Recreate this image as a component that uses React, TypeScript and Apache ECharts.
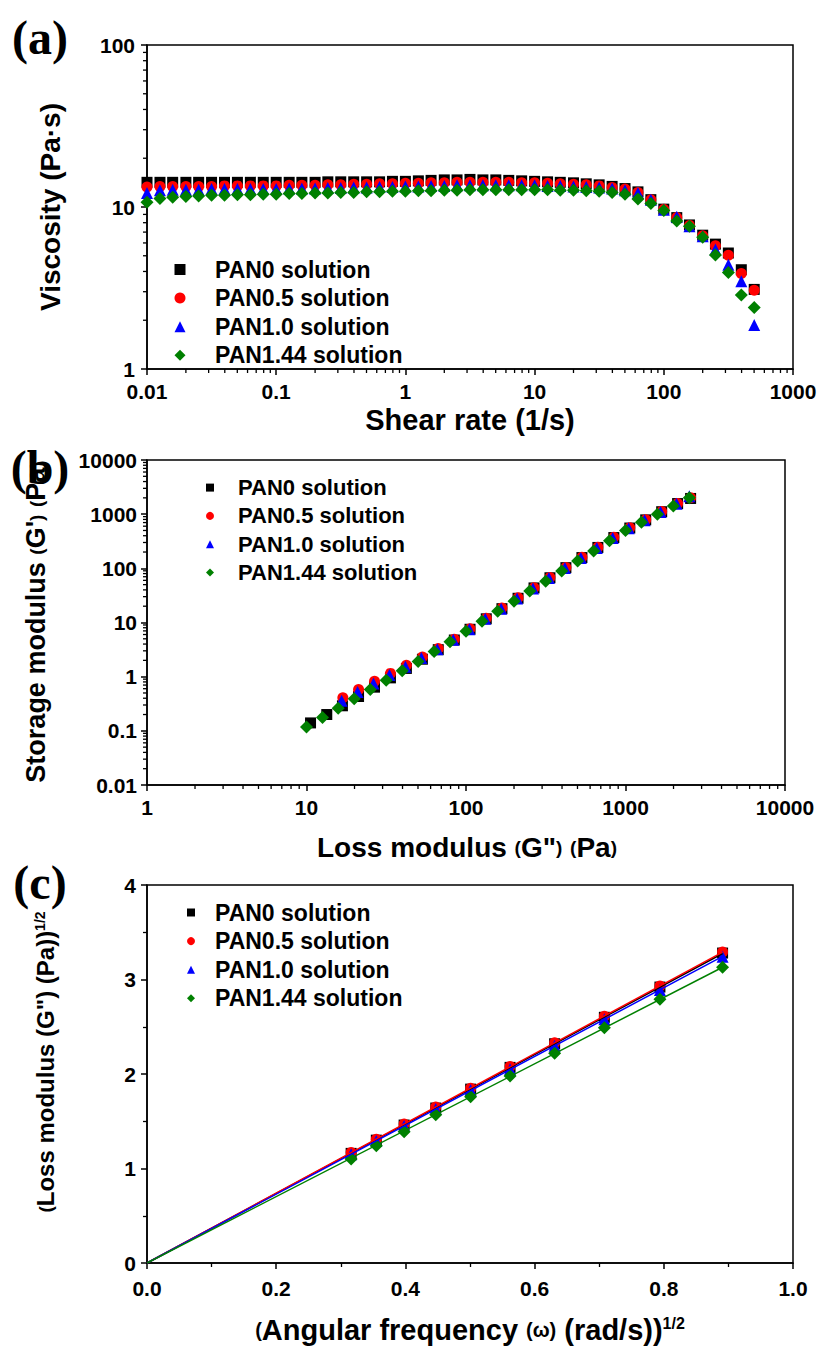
import React, { useEffect, useRef } from "react";
import * as echarts from "echarts";

const FONT = '"Liberation Sans", Arial, Helvetica, sans-serif';
const SERIF = '"Liberation Serif", "Times New Roman", serif';

const seriesNames = ["PAN0 solution", "PAN0.5 solution", "PAN1.0 solution", "PAN1.44 solution"];
const seriesColors = ["#000000", "#ff0000", "#0000ff", "#008000"];
const seriesSymbols = ["rect", "circle", "triangle", "diamond"];
const symbolSizes = [11, 11, 12, 13];

// ---------- Panel (a): viscosity vs shear rate ----------
const shearRate = [
  0.01, 0.0126, 0.0158, 0.02, 0.0251, 0.0316, 0.0398, 0.0501, 0.0631, 0.0794,
  0.1, 0.126, 0.158, 0.2, 0.251, 0.316, 0.398, 0.501, 0.631, 0.794,
  1, 1.26, 1.58, 2, 2.51, 3.16, 3.98, 5.01, 6.31, 7.94,
  10, 12.6, 15.8, 20, 25.1, 31.6, 39.8, 50.1, 63.1, 79.4,
  100, 126, 158, 200, 251, 316, 398, 501,
];
const viscPAN0 = [
  14.2, 14.2, 14.2, 14.2, 14.2, 14.2, 14.2, 14.2, 14.2, 14.2,
  14.2, 14.2, 14.2, 14.2, 14.3, 14.3, 14.3, 14.3, 14.3, 14.4,
  14.4, 14.5, 14.6, 14.7, 14.7, 14.8, 14.7, 14.7, 14.6, 14.5,
  14.4, 14.3, 14.2, 14.1, 13.9, 13.7, 13.4, 13.0, 12.4, 11.1,
  9.7, 8.6, 7.75, 6.7, 5.9, 5.2, 4.1, 3.1,
];
const viscPAN05 = [
  13.3, 13.4, 13.4, 13.4, 13.4, 13.4, 13.5, 13.5, 13.5, 13.5,
  13.5, 13.6, 13.6, 13.6, 13.7, 13.7, 13.8, 13.8, 13.9, 13.9,
  14.0, 14.0, 14.1, 14.1, 14.2, 14.2, 14.2, 14.2, 14.2, 14.1,
  14.1, 14.0, 13.9, 13.8, 13.7, 13.5, 13.2, 12.9, 12.3, 11.1,
  9.7, 8.6, 7.7, 6.65, 5.76, 5.04, 3.89, 3.06,
];
const viscPAN10 = [
  12.2, 12.7, 12.8, 12.8, 12.8, 12.9, 12.9, 12.9, 12.9, 12.9,
  12.9, 13.0, 13.0, 13.0, 13.1, 13.1, 13.2, 13.2, 13.3, 13.3,
  13.4, 13.4, 13.5, 13.5, 13.6, 13.6, 13.6, 13.6, 13.6, 13.6,
  13.6, 13.5, 13.5, 13.4, 13.3, 13.2, 13.0, 12.7, 12.2, 11.1,
  9.6, 8.7, 7.6, 6.6, 5.46, 4.4, 3.48, 1.87,
];
const viscPAN144 = [
  10.7, 11.3, 11.5, 11.6, 11.7, 11.8, 11.8, 11.9, 11.9, 12.0,
  12.0, 12.1, 12.1, 12.2, 12.2, 12.3, 12.3, 12.4, 12.4, 12.5,
  12.5, 12.6, 12.6, 12.7, 12.7, 12.8, 12.8, 12.8, 12.8, 12.8,
  12.8, 12.8, 12.7, 12.7, 12.6, 12.5, 12.3, 12.0, 11.2, 10.5,
  9.5, 8.2, 7.6, 6.5, 5.06, 3.94, 2.86, 2.4,
];
const viscosity = [viscPAN0, viscPAN05, viscPAN10, viscPAN144];

// ---------- Panel (b): storage modulus vs loss modulus ----------
const lossPAN0 = [10.6, 13.4, 16.8, 21.2, 26.7, 33.6, 42.3, 53.3, 67.0, 84.5, 106, 134, 168, 212, 267, 336, 423, 533, 671, 845, 1064, 1339, 1686, 2122, 2560];
const storPAN0 = [0.14, 0.2, 0.29, 0.43, 0.64, 0.95, 1.42, 2.1, 3.15, 4.75, 7.5, 11.7, 18, 28, 43.5, 67, 103, 158, 243, 370, 555, 785, 1110, 1570, 1950];
const lossPAN05 = [16.9, 21.2, 26.7, 33.6, 42.3, 53.3, 67.0, 84.5, 106, 134, 168, 212, 267, 336, 423, 533, 671, 845, 1064, 1339, 1686, 2122, 2560];
const storPAN05 = [0.41, 0.58, 0.82, 1.15, 1.62, 2.3, 3.3, 4.9, 7.7, 12.0, 18.5, 28.5, 44, 68, 104, 160, 245, 375, 560, 790, 1120, 1580, 2000];
const lossPAN10 = [16.6, 20.9, 26.3, 33.1, 41.7, 52.5, 66.1, 83.2, 105, 132, 166, 209, 263, 331, 417, 525, 661, 832, 1047, 1318, 1660, 2089, 2512];
const storPAN10 = [0.36, 0.52, 0.75, 1.07, 1.52, 2.2, 3.2, 4.8, 7.5, 11.7, 18, 27.8, 42.5, 66, 101, 155, 238, 365, 548, 775, 1100, 1560, 2150];
const lossPAN144 = [10.0, 12.6, 15.8, 19.9, 25.1, 31.6, 39.8, 50.1, 63.1, 79.4, 100, 126, 158, 200, 251, 316, 398, 501, 631, 794, 1000, 1259, 1585, 1995, 2512];
const storPAN144 = [0.118, 0.177, 0.26, 0.39, 0.58, 0.86, 1.29, 1.9, 2.9, 4.4, 6.9, 10.6, 16.2, 24.8, 38, 58, 89, 137, 210, 322, 500, 710, 1000, 1420, 2000];
const lossModulus = [lossPAN0, lossPAN05, lossPAN10, lossPAN144];
const storageModulus = [storPAN0, storPAN05, storPAN10, storPAN144];

// ---------- Panel (c): sqrt(G'') vs sqrt(omega) ----------
const sqrtFreq = [0.316, 0.355, 0.398, 0.447, 0.501, 0.562, 0.631, 0.708, 0.794, 0.891];
const sqrtLossPAN0 = [1.16, 1.30, 1.46, 1.64, 1.84, 2.07, 2.32, 2.60, 2.92, 3.28];
const sqrtLossPAN05 = [1.17, 1.31, 1.47, 1.65, 1.85, 2.08, 2.33, 2.61, 2.93, 3.29];
const sqrtLossPAN10 = [1.15, 1.29, 1.45, 1.63, 1.83, 2.05, 2.30, 2.58, 2.89, 3.24];
const sqrtLossPAN144 = [1.10, 1.24, 1.39, 1.57, 1.76, 1.98, 2.22, 2.49, 2.79, 3.13];
const sqrtLoss = [sqrtLossPAN0, sqrtLossPAN05, sqrtLossPAN10, sqrtLossPAN144];

// tick labels
const ticksA_x = ["0.01", "0.1", "1", "10", "100", "1000"];
const ticksA_y = ["1", "10", "100"];
const ticksB_x = ["1", "10", "100", "1000", "10000"];
const ticksB_y = ["0.01", "0.1", "1", "10", "100", "1000", "10000"];

function logMinorTicks(minExp: number, maxExp: number): number[] {
  const out: number[] = [];
  for (let e = minExp; e < maxExp; e++) {
    for (let m = 2; m <= 9; m++) out.push(+(m * Math.pow(10, e)).toPrecision(4));
  }
  return out;
}

function minorTickSeries(gridIdx: number, dir: "x" | "y", ticks: number[], other: number, len: number) {
  return {
    type: "custom",
    xAxisIndex: gridIdx,
    yAxisIndex: gridIdx,
    clip: false,
    silent: true,
    z: 6,
    data: ticks.map((t) => (dir === "x" ? [t, other] : [other, t])),
    renderItem: (_params: any, api: any) => {
      const p = api.coord([api.value(0), api.value(1)]);
      const shape =
        dir === "x"
          ? { x1: p[0], y1: p[1], x2: p[0], y2: p[1] + len }
          : { x1: p[0], y1: p[1], x2: p[0] - len, y2: p[1] };
      return { type: "line", shape, style: { stroke: "#000", lineWidth: 1.3 } };
    },
  };
}

const fmtLog = (v: number) => String(+Number(v).toPrecision(6));

function buildOption(): any {
  const grids = [
    { left: 147, top: 45, width: 646, height: 324 },
    { left: 147, top: 460, width: 638, height: 325 },
    { left: 147, top: 885, width: 646, height: 378 },
  ].map((g) => ({
    ...g,
    show: true,
    borderColor: "#000",
    borderWidth: 1.5,
    backgroundColor: "transparent",
    containLabel: false,
    outerBoundsMode: "none",
  }));

  const axisBase = (margin: number) => ({
    axisLine: { show: true, onZero: false, lineStyle: { color: "#000", width: 1.5 } },
    axisTick: { show: true, inside: false, length: 6, lineStyle: { color: "#000", width: 1.5 } },
    axisLabel: {
      color: "#000",
      fontSize: 21,
      fontWeight: "bold",
      fontFamily: FONT,
      margin,
      hideOverlap: false,
    },
    splitLine: { show: false },
  });

  const logLabel = (labels: string[], margin: number) => {
    const b = axisBase(margin);
    return {
      ...b,
      axisLabel: {
        ...b.axisLabel,
        formatter: (v: number) => {
          const s = fmtLog(v);
          return labels.indexOf(s) >= 0 ? s : "";
        },
      },
    };
  };

  const xAxis = [
    { type: "log", logBase: 10, min: 0.01, max: 1000, gridIndex: 0, ...logLabel(ticksA_x, 12) },
    { type: "log", logBase: 10, min: 1, max: 10000, gridIndex: 1, ...logLabel(ticksB_x, 12) },
    {
      type: "value",
      min: 0,
      max: 1,
      interval: 0.2,
      gridIndex: 2,
      ...axisBase(15),
      minorTick: { show: true, splitNumber: 2, length: 4, lineStyle: { color: "#000", width: 1.3 } },
      axisLabel: { ...axisBase(15).axisLabel, formatter: (v: number) => Number(v).toFixed(1) },
    },
  ];
  const yAxis = [
    { type: "log", logBase: 10, min: 1, max: 100, gridIndex: 0, ...logLabel(ticksA_y, 12) },
    { type: "log", logBase: 10, min: 0.01, max: 10000, gridIndex: 1, ...logLabel(ticksB_y, 10) },
    {
      type: "value",
      min: 0,
      max: 4,
      interval: 1,
      gridIndex: 2,
      ...axisBase(11),
      minorTick: { show: true, splitNumber: 2, length: 4, lineStyle: { color: "#000", width: 1.3 } },
      axisLabel: { ...axisBase(11).axisLabel, formatter: (v: number) => String(Math.round(v)) },
    },
  ];

  const series: any[] = [];
  // panel (a)
  seriesNames.forEach((name, i) => {
    series.push({
      type: "scatter",
      name,
      xAxisIndex: 0,
      yAxisIndex: 0,
      symbol: seriesSymbols[i],
      symbolSize: symbolSizes[i],
      itemStyle: { color: seriesColors[i], opacity: 1 },
      data: shearRate.map((x, k) => [x, viscosity[i][k]]),
    });
  });
  // panel (b)
  seriesNames.forEach((name, i) => {
    series.push({
      type: "scatter",
      name,
      xAxisIndex: 1,
      yAxisIndex: 1,
      symbol: seriesSymbols[i],
      symbolSize: symbolSizes[i],
      itemStyle: { color: seriesColors[i], opacity: 1 },
      data: lossModulus[i].map((x, k) => [x, storageModulus[i][k]]),
    });
  });
  // panel (c): linear fits through the origin
  const xMax = Math.max(...sqrtFreq);
  seriesNames.forEach((name, i) => {
    const ys = sqrtLoss[i];
    let sxy = 0;
    let sxx = 0;
    sqrtFreq.forEach((x, k) => {
      sxy += x * ys[k];
      sxx += x * x;
    });
    const slope = sxy / sxx;
    series.push({
      type: "line",
      name: name + " fit",
      xAxisIndex: 2,
      yAxisIndex: 2,
      showSymbol: false,
      symbol: "none",
      silent: true,
      color: seriesColors[i],
      lineStyle: { color: seriesColors[i], width: 1.5 },
      data: [
        [0, 0],
        [xMax, slope * xMax],
      ],
    });
  });
  seriesNames.forEach((name, i) => {
    series.push({
      type: "scatter",
      name,
      xAxisIndex: 2,
      yAxisIndex: 2,
      symbol: seriesSymbols[i],
      symbolSize: symbolSizes[i],
      itemStyle: { color: seriesColors[i], opacity: 1 },
      data: sqrtFreq.map((x, k) => [x, sqrtLoss[i][k]]),
    });
  });
  // log-axis minor ticks
  series.push(minorTickSeries(0, "x", logMinorTicks(-2, 3), 1, 4));
  series.push(minorTickSeries(0, "y", logMinorTicks(0, 2), 0.01, 4));
  series.push(minorTickSeries(1, "x", logMinorTicks(0, 4), 0.01, 4));
  series.push(minorTickSeries(1, "y", logMinorTicks(-2, 4), 1, 4));

  const legendData = seriesNames.map((n, i) => ({ name: n, icon: seriesSymbols[i] }));
  const mkLegend = (left: number, top: number, size: number, gap: number, fontSize: number, pad: number) => ({
    left,
    top,
    orient: "vertical",
    itemWidth: size,
    itemHeight: size,
    itemGap: gap,
    padding: 0,
    selectedMode: false,
    data: legendData,
    textStyle: {
      color: "#000",
      fontSize,
      fontWeight: "bold",
      fontFamily: FONT,
      lineHeight: size,
      padding: [0, 0, 0, pad],
    },
  });
  const legend = [
    mkLegend(174.5, 258, 11, 5.6, 23, 24.5),
    mkLegend(206, 476.6, 8, 6.3, 22, 19),
    mkLegend(187, 901, 8, 5.6, 23, 15),
  ];

  const bold = (size: number) => ({ fontSize: size, fontWeight: "bold", fontFamily: FONT, fill: "#000" });
  const txt = (x: number, y: number, text: string, size: number, rot = 0, rich?: any) => ({
    type: "text",
    x,
    y,
    rotation: rot,
    silent: true,
    style: { text, ...bold(size), align: "center", verticalAlign: "middle", rich },
  });
  const richMain = (n: number, s: number, p: number) => ({
    n: { fontSize: n, fontWeight: "bold", fontFamily: FONT, color: "#000" },
    s: { fontSize: s, fontWeight: "bold", fontFamily: FONT, color: "#000" },
    p: { fontSize: p, fontWeight: "bold", fontFamily: FONT, color: "#000", verticalAlign: "top" },
  });
  const panelLabel = (x: number, y: number, text: string) => ({
    type: "text",
    x,
    y,
    silent: true,
    style: { text, fontSize: 48, fontWeight: "bold", fontFamily: SERIF, fill: "#000", align: "center", verticalAlign: "middle" },
  });

  const graphic = [
    panelLabel(40, 37, "(a)"),
    panelLabel(40, 467, "(b)"),
    panelLabel(40, 882, "(c)"),
    txt(470, 420, "Shear rate (1/s)", 29),
    txt(50, 207, "Viscosity (Pa·s)", 28, Math.PI / 2),
    txt(467, 847, '{n|Loss modulus }{s|(}{n|G"}{s|)}{n| }{s|(}{n|Pa}{s|)}', 28, 0, richMain(28, 19, 16)),
    txt(36, 622, "{n|Storage modulus }{s|(}{n|G'}{s|)}{n| }{s|(}{n|Pa}{s|)}", 27, Math.PI / 2, richMain(27, 19, 15)),
    txt(470, 1330, "{s|(}{n|Angular frequency }{s|(ω)}{n| (rad/s))}{p|1/2}", 29, 0, richMain(29, 20, 16)),
    txt(45, 1062, '{s|(}{n|Loss modulus (G") (Pa))}{p|1/2}', 24, Math.PI / 2, richMain(24, 19, 14)),
  ];

  return {
    animation: false,
    backgroundColor: "#fff",
    grid: grids,
    xAxis,
    yAxis,
    legend,
    series,
    graphic,
  };
}

export default function App() {
  const ref = useRef<HTMLDivElement>(null);
  useEffect(() => {
    document.body.style.margin = "0";
    const chart = echarts.init(ref.current as HTMLDivElement, null, { renderer: "svg" });
    chart.setOption(buildOption());
    return () => chart.dispose();
  }, []);
  return <div ref={ref} style={{ width: 829, height: 1347, background: "#fff" }} />;
}
